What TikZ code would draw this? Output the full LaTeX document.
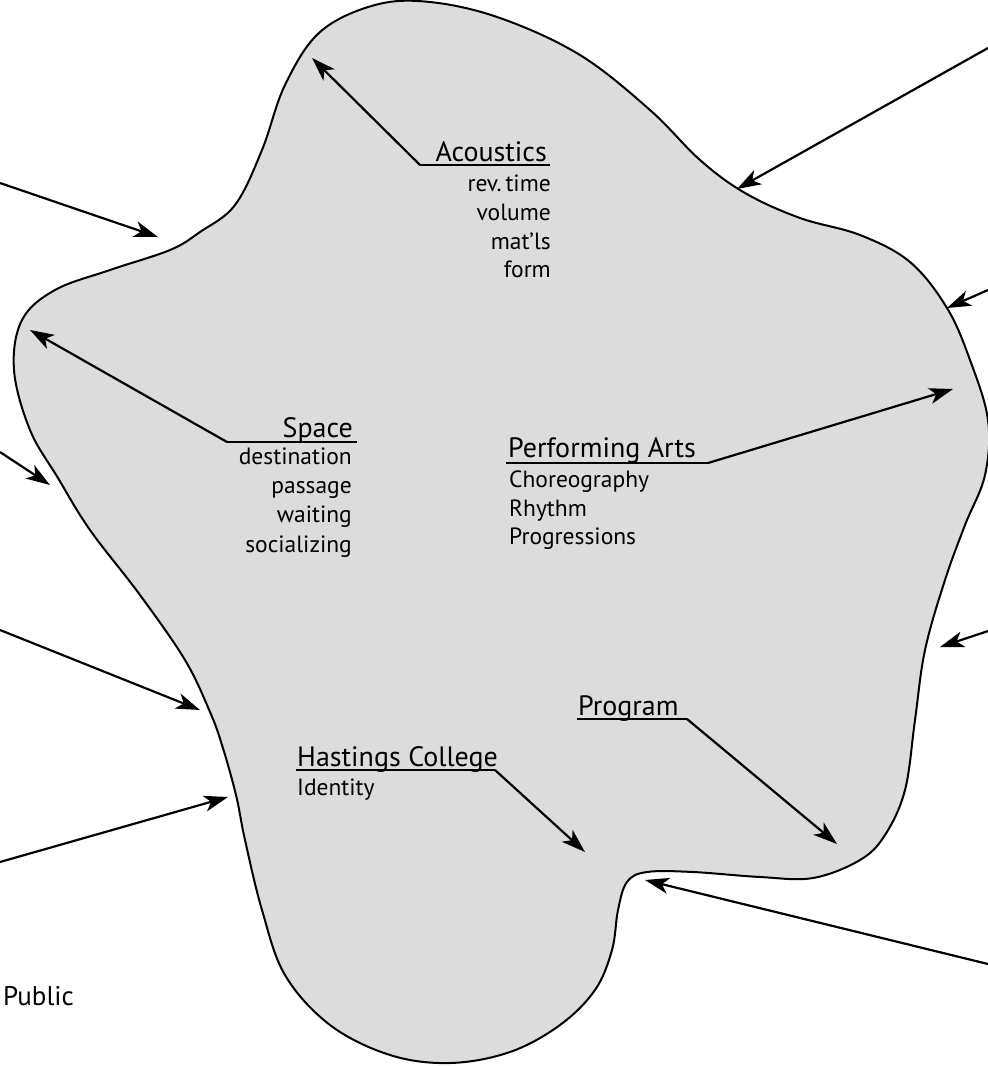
\documentclass[tikz,border=0pt]{standalone}
\usepackage{fontspec}
\setmainfont{PT Sans}
\usetikzlibrary{arrows.meta}
\definecolor{blobfill}{RGB}{220,220,220}
\begin{document}
\begin{tikzpicture}[x=1pt,y=-1pt,
  arr/.style={line width=2.2pt,-{Stealth[length=24pt,width=16pt,inset=6.5pt]}},
  ttl/.style={font=\fontsize{28}{30}\selectfont,inner sep=0pt},
  lst/.style={font=\fontsize{23.5}{29}\selectfont,inner sep=0pt},
  uline/.style={line width=2.2pt}]
\useasboundingbox (0,0) rectangle (988,1066);
\begin{scope}
\clip (0,0) rectangle (988,1066);
\draw[line width=2pt, fill=blobfill] plot[smooth cycle, tension=0.6] coordinates {
(235,205) (262,150) (285,85) (320,32) (375,5) (430,2) (500,18) (580,55)
(650,110) (700,160) (745,193) (800,218) (860,235) (910,262) (947,308)
(970,360) (988,420) (985,475) (965,525) (945,580) (925,650) (915,720)
(905,790) (885,835) (860,860) (813,878) (760,877) (693,872) (647,872)
(627,882) (618,910) (612,950) (595,990) (560,1025) (510,1052) (450,1063)
(390,1055) (330,1025) (285,975) (262,910) (245,840) (236,795) (222,745)
(210,712) (185,660) (140,595) (90,530) (58,478) (30,430) (14,370) (22,320)
(55,290) (110,270) (170,250) (200,232)};
\end{scope}

% Acoustics
\node[ttl,anchor=base east] (acT) at (547,161) {Acoustics};
\foreach \t/\y [count=\i] in {rev.\,time/191,volume/220,mat’ls/249,form/277}
  \node[lst,anchor=base east] (ac\i) at (551,\y) {\t};
\coordinate (acA) at (420,165); \coordinate (acB) at (550,165); \coordinate (acTip) at (312,58);
\draw[uline] (acB) -- (acA);
\draw[arr] (acA) -- (acTip);

% Space
\node[ttl,anchor=base east] (spT) at (353,437) {Space};
\foreach \t/\y [count=\i] in {destination/464,passage/493,waiting/522,socializing/552}
  \node[lst,anchor=base east] (sp\i) at (352,\y) {\t};
\coordinate (spA) at (227,442); \coordinate (spB) at (357,442); \coordinate (spTip) at (30,330);
\draw[uline] (spB) -- (spA);
\draw[arr] (spA) -- (spTip);

% Performing Arts
\node[ttl,anchor=base west] (paT) at (508,457) {Performing Arts};
\foreach \t/\y [count=\i] in {Choreography/487,Rhythm/516,Progressions/544}
  \node[lst,anchor=base west] (pa\i) at (509,\y) {\t};
\coordinate (paA) at (506,463); \coordinate (paB) at (708,463); \coordinate (paTip) at (953,389);
\draw[uline] (paA) -- (paB);
\draw[arr] (paB) -- (paTip);

% Program
\node[ttl,anchor=base west] (prT) at (578,715) {Program};
\coordinate (prA) at (577,719); \coordinate (prB) at (687,719); \coordinate (prTip) at (837,844);
\draw[uline] (prA) -- (prB);
\draw[arr] (prB) -- (prTip);

% Hastings College
\node[ttl,anchor=base west] (hcT) at (297,766) {Hastings College};
\node[lst,anchor=base west] (hc1) at (297,795) {Identity};
\coordinate (hcA) at (296,770); \coordinate (hcB) at (495,770); \coordinate (hcTip) at (585,852);
\draw[uline] (hcA) -- (hcB);
\draw[arr] (hcB) -- (hcTip);

% Public
\node[font=\fontsize{27}{30}\selectfont,inner sep=0pt,anchor=base west] (pub) at (3,1005) {Public};

% external arrows
\coordinate (e1) at (0,183);   \coordinate (t1) at (158,237);
\coordinate (e2) at (988,48);  \coordinate (t2) at (737,189);
\coordinate (e3) at (988,290); \coordinate (t3) at (947,308);
\coordinate (e4) at (0,452);   \coordinate (t4) at (50,485);
\coordinate (e5) at (988,631); \coordinate (t5) at (940,647);
\coordinate (e6) at (0,630);   \coordinate (t6) at (200,710);
\coordinate (e7) at (0,862);   \coordinate (t7) at (228,797);
\coordinate (e8) at (988,964); \coordinate (t8) at (645,880);
\foreach \i in {1,...,8} \draw[arr] (e\i) -- (t\i);
\end{tikzpicture}
\end{document}
